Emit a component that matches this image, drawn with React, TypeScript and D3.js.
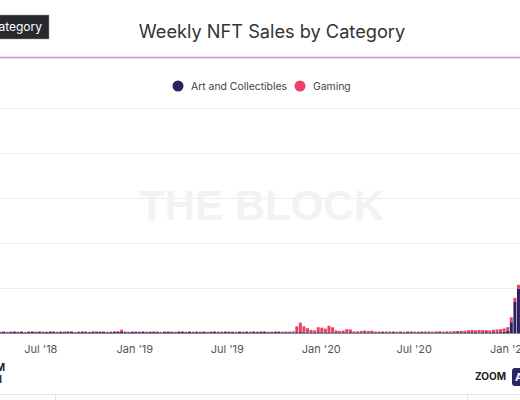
import React from "react";
import * as d3 from "d3";

// ---- data (weekly, starting Thursday 2018-04-05) ----
const firstWeek = "2018-04-05";
const seriesKeys = ["art", "gaming"];
const seriesNames = ["Art and Collectibles", "Gaming"];
const seriesColors = ["#2d2163", "#ee3f66"];

const art2018 = [1.2, 1.0, 1.3, 0.9, 1.1, 1.4, 1.0, 1.2, 0.8, 1.1, 1.3, 1.0, 1.2, 0.9, 1.0, 1.4, 1.1, 0.9, 1.2, 1.0, 1.3, 1.1, 0.8, 1.0, 1.2, 1.1, 0.9, 1.3, 1.0, 1.2, 1.1, 0.9, 1.0, 1.2, 1.3, 1.1, 1.0, 0.9, 1.2];
const art2019 = [1.1, 1.0, 1.3, 0.9, 1.1, 1.2, 1.0, 0.8, 1.1, 1.2, 1.0, 0.9, 1.3, 1.1, 1.0, 1.2, 0.9, 1.1, 1.0, 1.2, 0.8, 1.1, 1.3, 1.0, 0.9, 1.2, 1.1, 1.0, 0.8, 1.2, 1.0, 1.1, 0.9, 1.3, 1.0, 1.2, 1.1, 0.9, 1.0, 1.2, 1.1, 0.9, 1.0, 0.9, 0.8, 0.9, 1.0, 0.9, 0.8, 0.9, 0.8, 0.9];
const art2020 = [0.9, 0.8, 0.9, 0.8, 0.9, 0.8, 0.9, 0.8, 0.9, 0.8, 0.9, 0.8, 0.9, 0.8, 0.9, 0.8, 0.9, 1.0, 0.8, 0.9, 1.0, 0.8, 0.9, 0.8, 1.0, 0.9, 0.8, 0.9, 1.0, 0.8, 0.9, 0.8, 0.9, 1.0, 0.8, 0.9, 0.8, 0.9, 1.0, 0.9, 0.8, 0.9, 1.0, 0.9, 0.8, 0.9, 1.0, 0.9, 1.0, 0.9, 1.0, 1.5, 2.5];
const art2021 = [12, 34.5, 49];

const gaming2018 = [0.4, 0.3, 0.5, 0.4, 0.3, 0.5, 0.4, 0.6, 0.3, 0.5, 0.6, 0.4, 0.5, 0.7, 0.4, 0.5, 0.6, 0.5, 0.4, 0.6, 0.5, 0.7, 0.4, 0.5, 0.6, 0.5, 0.4, 0.6, 0.7, 0.5, 0.6, 0.4, 0.5, 0.6, 0.8, 2.5, 0.6, 0.5, 0.4];
const gaming2019 = [0.5, 0.4, 0.6, 0.5, 0.4, 0.5, 0.6, 0.4, 0.5, 0.6, 0.5, 0.4, 0.5, 0.6, 0.4, 0.5, 0.6, 0.5, 0.4, 0.5, 0.6, 0.5, 0.4, 0.5, 0.6, 0.5, 0.4, 0.5, 0.6, 0.5, 0.4, 0.5, 0.6, 0.5, 0.4, 0.5, 0.6, 0.5, 0.4, 0.5, 0.6, 0.5, 0.5, 0.6, 1.0, 6.5, 10.5, 6.5, 4.5, 2.5, 2.0, 5.5];
const gaming2020 = [5.0, 4.0, 7.0, 5.5, 2.0, 1.5, 1.8, 3.5, 3.0, 1.0, 0.8, 1.5, 1.8, 1.5, 1.6, 0.8, 0.7, 0.6, 0.8, 0.7, 0.6, 0.7, 0.8, 0.6, 0.7, 0.8, 0.7, 0.6, 0.7, 0.8, 0.8, 0.7, 0.9, 0.8, 0.7, 0.9, 0.8, 1.2, 1.3, 1.5, 1.6, 2.2, 2.5, 2.2, 2.6, 2.4, 2.2, 2.0, 2.6, 3.0, 3.3, 3.5, 4.0];
const gaming2021 = [5.5, 4.5, 4.5];

const tickDates = ["2018-07-01", "2019-01-01", "2019-07-01", "2020-01-01", "2020-07-01", "2021-01-01"];
const tickLabels = ["Jul '18", "Jan '19", "Jul '19", "Jan '20", "Jul '20", "Jan '21"];
const yTicks = [0, 50, 100, 150, 200, 250];

const W = 520;
const H = 400;
const FONT = "Inter, 'Open Sans', sans-serif";

export default function App() {
  const parse = d3.timeParse("%Y-%m-%d");
  const start = parse(firstWeek) as Date;
  const art = [...art2018, ...art2019, ...art2020, ...art2021];
  const gaming = [...gaming2018, ...gaming2019, ...gaming2020, ...gaming2021];
  const rows = art.map((a, i) => ({
    date: d3.timeDay.offset(start, i * 7),
    art: a,
    gaming: gaming[i],
  }));

  const x = d3
    .scaleTime()
    .domain([new Date(2018, 3, 12), new Date(2021, 0, 24)])
    .range([0, W]);
  const y = d3.scaleLinear().domain([0, 250]).range([333, 108]);
  const stacked = d3.stack<any>().keys(seriesKeys)(rows);
  const barW = 3;

  return (
    <div
      style={{
        position: "absolute",
        left: 0,
        top: 0,
        width: W,
        height: H,
        overflow: "hidden",
        background: "#fff",
      }}
    >
      <svg width={W} height={H} style={{ display: "block" }}>
        {/* top-left tag */}
        <rect x={-20} y={15} width={69} height={24} fill="#27292e" stroke="#9a9a9a" strokeWidth={0.5} />
        <text x={42} y={31} textAnchor="end" fill="#fff" fontFamily={FONT} fontSize={12}>
          Category
        </text>

        {/* title */}
        <text x={272} y={38} textAnchor="middle" fill="#333" fontFamily={FONT} fontSize={18.2}>
          Weekly NFT Sales by Category
        </text>
        <line x1={0} x2={W} y1={57.5} y2={57.5} stroke="#c98be0" strokeWidth={1.5} />

        {/* legend */}
        <g fontFamily={FONT} fontSize={10.4} fill="#444">
          <circle cx={178} cy={86} r={5.5} fill={seriesColors[0]} />
          <text x={191} y={90}>{seriesNames[0]}</text>
          <circle cx={300} cy={86} r={5.5} fill={seriesColors[1]} />
          <text x={313} y={90}>{seriesNames[1]}</text>
        </g>

        {/* gridlines */}
        {yTicks.slice(1).map((t) => (
          <line key={t} x1={0} x2={W} y1={Math.round(y(t)) + 0.5} y2={Math.round(y(t)) + 0.5} stroke="#ececec" strokeWidth={1} />
        ))}

        {/* watermark */}
        <text
          x={261.5}
          y={220}
          textAnchor="middle"
          fill="#f2f2f2"
          fontFamily="'Liberation Sans', Arial, sans-serif"
          fontWeight="bold"
          fontSize={42}
        >
          THE BLOCK
        </text>

        {/* bars */}
        {stacked.map((layer, k) => (
          <g key={seriesKeys[k]} fill={seriesColors[k]}>
            {layer.map((d: any, i: number) => (
              <rect
                key={i}
                x={x(d.data.date) - barW / 2}
                y={y(d[1])}
                width={barW}
                height={Math.max(0, y(d[0]) - y(d[1]))}
              />
            ))}
          </g>
        ))}

        {/* baseline */}
        <line x1={0} x2={W} y1={333.5} y2={333.5} stroke="#8c8c8c" strokeWidth={1} />

        {/* x ticks */}
        <g fontFamily={FONT} fontSize={11} fill="#555" textAnchor="middle">
          {tickDates.map((td, i) => (
            <text key={td} x={x(parse(td) as Date)} y={352.5}>
              {tickLabels[i]}
            </text>
          ))}
        </g>

        {/* bottom-left clipped labels */}
        <g fontFamily={FONT} fontSize={10} fontWeight="bold" fill="#222">
          <text x={5} y={371} textAnchor="end">1M</text>
          <text x={2} y={383} textAnchor="end">All</text>
        </g>

        {/* zoom control */}
        <text x={475} y={380} fontFamily={FONT} fontSize={10} fontWeight="bold" fill="#222">
          ZOOM
        </text>
        <rect x={512} y={368} width={30} height={18} rx={3} fill="#2d2463" />
        <text x={515} y={381} fontFamily={FONT} fontSize={11} fontWeight="bold" fill="#fff">
          ALL
        </text>

        {/* bottom panel line */}
        <line x1={0} x2={W} y1={394.5} y2={394.5} stroke="#e4e4e4" strokeWidth={1} />
        <line x1={55.5} x2={55.5} y1={394.5} y2={H} stroke="#e4e4e4" strokeWidth={1} />
        <line x1={467.5} x2={467.5} y1={394.5} y2={H} stroke="#e4e4e4" strokeWidth={1} />
      </svg>
    </div>
  );
}
